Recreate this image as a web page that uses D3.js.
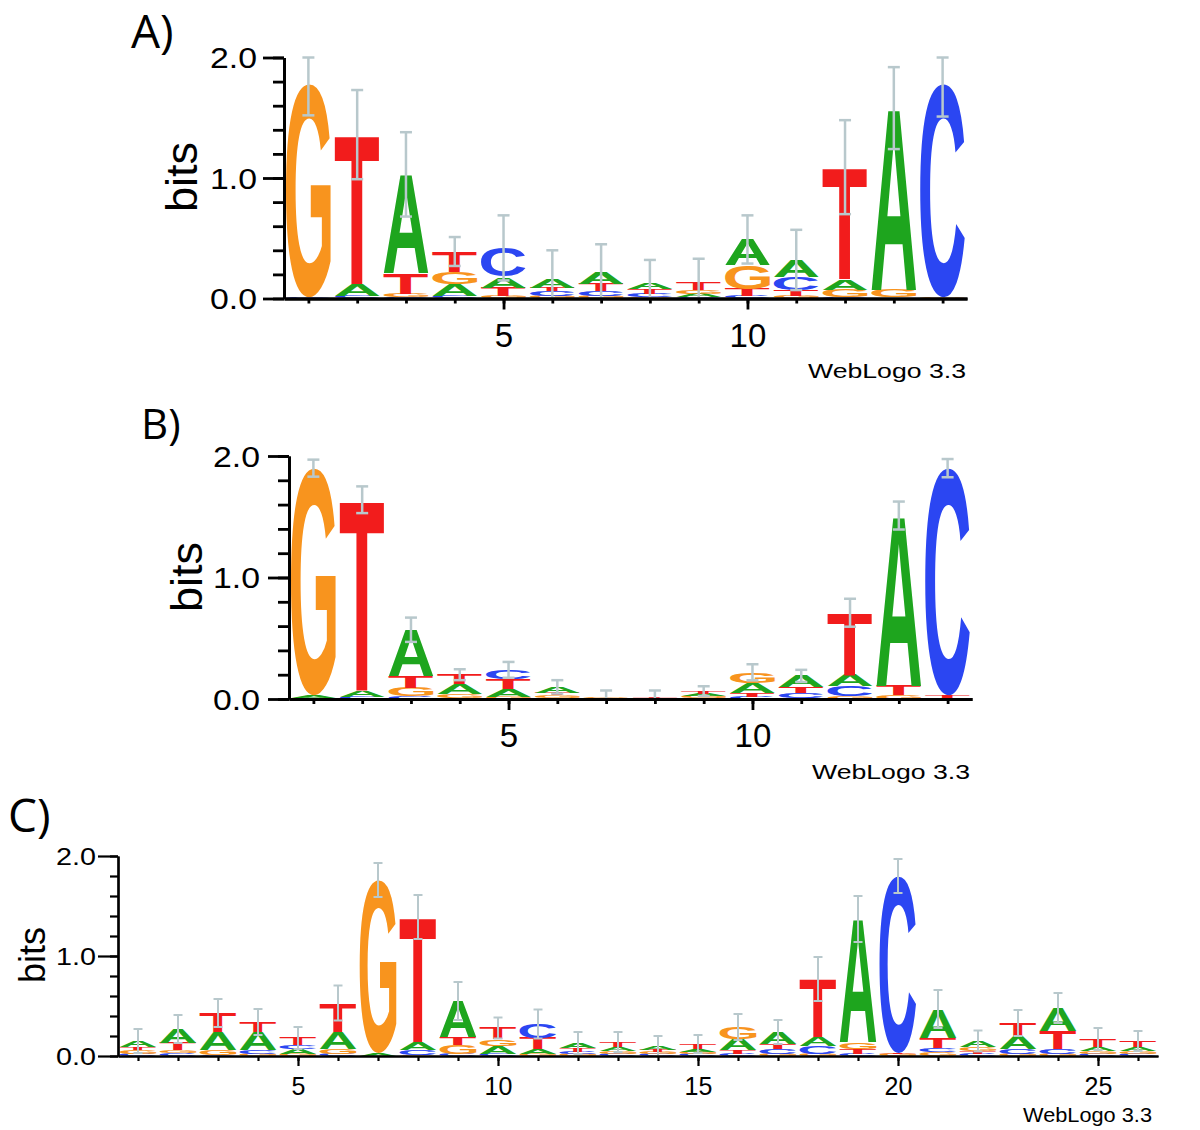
<!DOCTYPE html>
<html>
<head>
<meta charset="utf-8">
<script src="https://cdn.jsdelivr.net/npm/d3@7"></script>
<style>
  body { margin: 0; background: #fff; }
</style>
</head>
<body>
<svg id="fig" width="1200" height="1130"></svg>
<script>
// letter stacks per position, bottom -> top, [base, bits]
const stacksA = [
  [["C", 0.01], ["G", 1.77]],
  [["C", 0.02], ["A", 0.10], ["T", 1.24]],
  [["C", 0.01], ["G", 0.03], ["T", 0.17], ["A", 0.82]],
  [["C", 0.02], ["A", 0.10], ["G", 0.10], ["T", 0.17]],
  [["G", 0.02], ["T", 0.07], ["A", 0.09], ["C", 0.24]],
  [["G", 0.02], ["C", 0.04], ["T", 0.03], ["A", 0.07]],
  [["G", 0.02], ["C", 0.04], ["T", 0.06], ["A", 0.10]],
  [["G", 0.01], ["C", 0.03], ["T", 0.04], ["A", 0.05]],
  [["C", 0.01], ["A", 0.03], ["G", 0.03], ["T", 0.06]],
  [["C", 0.02], ["T", 0.06], ["G", 0.20], ["A", 0.21]],
  [["G", 0.02], ["T", 0.05], ["C", 0.11], ["A", 0.14]],
  [["C", 0.01], ["G", 0.06], ["A", 0.09], ["T", 0.93]],
  [["T", 0.01], ["G", 0.06], ["A", 1.51]],
  [["G", 0.01], ["C", 1.77]]
];
const errA = [0.26, 0.37, 0.35, 0.12, 0.27, 0.24, 0.23, 0.19, 0.20, 0.20, 0.25, 0.39, 0.34, 0.27];

const stacksB = [
  [["C", 0.01], ["A", 0.02], ["G", 1.87]],
  [["C", 0.02], ["A", 0.05], ["T", 1.57]],
  [["C", 0.02], ["G", 0.07], ["T", 0.10], ["A", 0.38]],
  [["C", 0.01], ["G", 0.03], ["A", 0.08], ["T", 0.08]],
  [["G", 0.02], ["A", 0.06], ["T", 0.08], ["C", 0.08]],
  [["C", 0.01], ["G", 0.02], ["T", 0.02], ["A", 0.05]],
  [["A", 0.005], ["G", 0.005]],
  [["C", 0.005], ["T", 0.005]],
  [["C", 0.01], ["G", 0.015], ["A", 0.02], ["T", 0.02]],
  [["C", 0.02], ["T", 0.03], ["A", 0.08], ["G", 0.09]],
  [["G", 0.01], ["C", 0.04], ["T", 0.05], ["A", 0.09]],
  [["G", 0.02], ["C", 0.09], ["A", 0.09], ["T", 0.51]],
  [["G", 0.03], ["T", 0.08], ["A", 1.40]],
  [["G", 0.01], ["T", 0.02], ["C", 1.87]]
];
const errB = [0.07, 0.11, 0.10, 0.045, 0.065, 0.055, 0.06, 0.06, 0.04, 0.066, 0.05, 0.115, 0.115, 0.075];

const stacksC = [
  [["C", 0.02], ["G", 0.04], ["T", 0.03], ["A", 0.06]],
  [["C", 0.03], ["G", 0.03], ["T", 0.07], ["A", 0.14]],
  [["C", 0.01], ["G", 0.05], ["A", 0.18], ["T", 0.19]],
  [["G", 0.02], ["C", 0.04], ["A", 0.18], ["T", 0.10]],
  [["G", 0.02], ["A", 0.05], ["C", 0.04], ["T", 0.07]],
  [["C", 0.02], ["G", 0.05], ["A", 0.17], ["T", 0.29]],
  [["A", 0.03], ["G", 1.73]],
  [["G", 0.01], ["C", 0.05], ["A", 0.08], ["T", 1.25]],
  [["C", 0.02], ["G", 0.09], ["T", 0.08], ["A", 0.36]],
  [["C", 0.02], ["A", 0.08], ["G", 0.07], ["T", 0.11]],
  [["G", 0.02], ["A", 0.05], ["T", 0.11], ["C", 0.14]],
  [["G", 0.02], ["C", 0.02], ["T", 0.04], ["A", 0.05]],
  [["C", 0.02], ["G", 0.03], ["A", 0.04], ["T", 0.05]],
  [["C", 0.02], ["G", 0.02], ["T", 0.02], ["A", 0.04]],
  [["C", 0.02], ["G", 0.02], ["A", 0.03], ["T", 0.05]],
  [["C", 0.02], ["T", 0.04], ["A", 0.11], ["G", 0.12]],
  [["G", 0.02], ["C", 0.05], ["T", 0.05], ["A", 0.12]],
  [["G", 0.02], ["C", 0.08], ["A", 0.09], ["T", 0.58]],
  [["C", 0.02], ["T", 0.05], ["G", 0.07], ["A", 1.23]],
  [["G", 0.02], ["T", 0.01], ["C", 1.77]],
  [["G", 0.04], ["C", 0.04], ["T", 0.10], ["A", 0.29]],
  [["C", 0.02], ["T", 0.03], ["G", 0.04], ["A", 0.06]],
  [["G", 0.02], ["C", 0.05], ["A", 0.13], ["T", 0.13]],
  [["G", 0.02], ["C", 0.05], ["T", 0.18], ["A", 0.23]],
  [["C", 0.02], ["G", 0.03], ["A", 0.04], ["T", 0.08]],
  [["C", 0.02], ["G", 0.03], ["A", 0.04], ["T", 0.06]]
];
const errC = [0.12, 0.14, 0.14, 0.13, 0.11, 0.175, 0.17, 0.22, 0.19, 0.105, 0.145, 0.11, 0.10,
              0.10, 0.09, 0.13, 0.12, 0.22, 0.23, 0.17, 0.19, 0.105, 0.13, 0.15, 0.11, 0.10];

const yMajorTicks = [0, 1, 2];
const panelLabels = ["A)", "B)", "C)"];
const credit = "WebLogo 3.3";

// colours (classic nucleotide scheme)
const baseColor = { A: "#1ea51e", C: "#2b46f2", G: "#f8941e", T: "#f21c1c" };
const errColor = "#b8c8cc";

const svg = d3.select('#fig');

// tight glyph boxes, measured once on a canvas
const ctx = document.createElement('canvas').getContext('2d');
ctx.font = 'bold 100px "Liberation Sans"';
const glyph = {};
"ACGT".split('').forEach(ch => {
  const m = ctx.measureText(ch);
  glyph[ch] = { l: m.actualBoundingBoxLeft, r: m.actualBoundingBoxRight,
                a: m.actualBoundingBoxAscent, d: m.actualBoundingBoxDescent };
});

// stretch a letter into the box (x0, yTop, w, h)
const drawGlyph = function(g, ch, x0, yTop, w, h) {
  if (h <= 0) return;
  const m = glyph[ch];
  g.append('text')
    .text(ch)
    .attr('font-family', '"Liberation Sans", Arial, sans-serif')
    .attr('font-weight', 'bold')
    .attr('font-size', 100)
    .attr('fill', baseColor[ch])
    .attr('transform', `translate(${x0},${yTop}) scale(${w / (m.l + m.r)},${h / (m.a + m.d)}) translate(${m.l},${m.a})`);
};

const panels = [
  { label: panelLabels[0], stacks: stacksA, err: errA,
    left: 284, right: 967, base: 298.5, top: 57.5,
    lab: { x: 131, y: 48, size: 46 },
    bits: { x: 197, y: 177, size: 45 },
    yl: { size: 29, len: 47, off: 27 }, xl: { size: 33, y: 48 },
    tick: { maj: 21, min: 11, xmaj: 11, xmin: 5 }, sw: 2.8,
    credit: { x: 966, y: 378, size: 21, len: 158 }, cap: 12, ew: 2.5 },
  { label: panelLabels[1], stacks: stacksB, err: errB,
    left: 289, right: 972, base: 699, top: 456,
    lab: { x: 141, y: 439, size: 42 },
    bits: { x: 202, y: 577, size: 45 },
    yl: { size: 29, len: 47, off: 29 }, xl: { size: 33, y: 48 },
    tick: { maj: 21, min: 11, xmaj: 11, xmin: 5 }, sw: 2.8,
    credit: { x: 970, y: 779, size: 21, len: 158 }, cap: 12, ew: 2.5 },
  { label: panelLabels[2], stacks: stacksC, err: errC,
    left: 118, right: 1158, base: 1056, top: 856,
    lab: { x: 8, y: 832, size: 46 },
    bits: { x: 45, y: 955, size: 36 },
    yl: { size: 24, len: 40, off: 22 }, xl: { size: 25, y: 39 },
    tick: { maj: 20, min: 8, xmaj: 10, xmin: 5 }, sw: 2.2,
    credit: { x: 1152, y: 1122, size: 21, len: 129 }, cap: 9, ew: 2 }
];

const drawPanel = function(p) {
  const g = svg.append('g');
  const n = p.stacks.length;
  const x = d3.scaleLinear().domain([0.5, n + 0.5]).range([p.left, p.right]);
  const y = d3.scaleLinear().domain([0, 2]).range([p.base, p.top]);
  const bw = (x(1) - x(0)) * 0.92;

  // letters
  const letters = g.append('g');
  p.stacks.forEach((col, i) => {
    let acc = 0;
    col.forEach(([ch, h]) => {
      const yb = y(acc), yt = y(acc + h);
      acc += h;
      drawGlyph(letters, ch, x(i + 1) - bw / 2, yt, bw, yb - yt);
    });
  });

  // error bars around the stack height
  const bars = g.append('g')
    .attr('stroke', errColor)
    .attr('stroke-width', p.ew)
    .attr('fill', 'none');
  p.stacks.forEach((col, i) => {
    const tot = d3.sum(col, d => d[1]);
    const lo = Math.max(0, tot - p.err[i]);
    const hi = Math.min(2, tot + p.err[i]);
    const cx = x(i + 1);
    bars.append('line').attr('x1', cx).attr('x2', cx).attr('y1', y(lo)).attr('y2', y(hi));
    bars.append('line').attr('x1', cx - p.cap / 2).attr('x2', cx + p.cap / 2).attr('y1', y(lo)).attr('y2', y(lo));
    bars.append('line').attr('x1', cx - p.cap / 2).attr('x2', cx + p.cap / 2).attr('y1', y(hi)).attr('y2', y(hi));
  });

  // y axis
  const yMinor = d3.axisLeft(y).tickValues(d3.range(0, 2.001, 0.2))
    .tickSize(p.tick.min).tickSizeOuter(0).tickFormat('');
  const yMajor = d3.axisLeft(y).tickValues(yMajorTicks)
    .tickSize(p.tick.maj).tickSizeOuter(0).tickFormat(d3.format('.1f'));
  g.append('g').attr('transform', `translate(${p.left},0)`).call(yMinor);
  const ya = g.append('g').attr('transform', `translate(${p.left},0)`).call(yMajor);
  ya.selectAll('text')
    .attr('x', -p.yl.off)
    .attr('dy', '0.36em')
    .attr('textLength', p.yl.len)
    .attr('lengthAdjust', 'spacingAndGlyphs')
    .style('font-size', p.yl.size + 'px');

  // x axis
  const xMinor = d3.axisBottom(x).tickValues(d3.range(1, n + 1))
    .tickSize(p.tick.xmin).tickSizeOuter(0).tickFormat('');
  const xMajor = d3.axisBottom(x).tickValues(d3.range(5, n + 1, 5))
    .tickSize(p.tick.xmaj).tickSizeOuter(0).tickFormat(d3.format('d'));
  g.append('g').attr('transform', `translate(0,${p.base})`).call(xMinor);
  const xa = g.append('g').attr('transform', `translate(0,${p.base})`).call(xMajor);
  xa.selectAll('text')
    .attr('y', p.xl.y)
    .attr('dy', 0)
    .style('font-size', p.xl.size + 'px');

  g.selectAll('.domain, .tick line')
    .attr('stroke', '#000')
    .attr('stroke-width', p.sw);
  g.selectAll('.tick text')
    .attr('fill', '#000')
    .style('font-family', '"Liberation Sans", Arial, sans-serif');

  // y title
  g.append('text')
    .attr('transform', `translate(${p.bits.x},${p.bits.y}) rotate(-90)`)
    .attr('text-anchor', 'middle')
    .style('font-family', '"Liberation Sans", Arial, sans-serif')
    .style('font-size', p.bits.size + 'px')
    .text('bits');

  // credit line
  g.append('text')
    .attr('x', p.credit.x)
    .attr('y', p.credit.y)
    .attr('text-anchor', 'end')
    .attr('textLength', p.credit.len)
    .attr('lengthAdjust', 'spacingAndGlyphs')
    .style('font-family', '"Liberation Sans", Arial, sans-serif')
    .style('font-size', p.credit.size + 'px')
    .text(credit);

  // panel label
  svg.append('text')
    .attr('x', p.lab.x)
    .attr('y', p.lab.y)
    .style('font-family', '"Open Sans", "Noto Sans", sans-serif')
    .style('font-size', p.lab.size + 'px')
    .text(p.label);
};

panels.forEach(drawPanel);
</script>
</body>
</html>
